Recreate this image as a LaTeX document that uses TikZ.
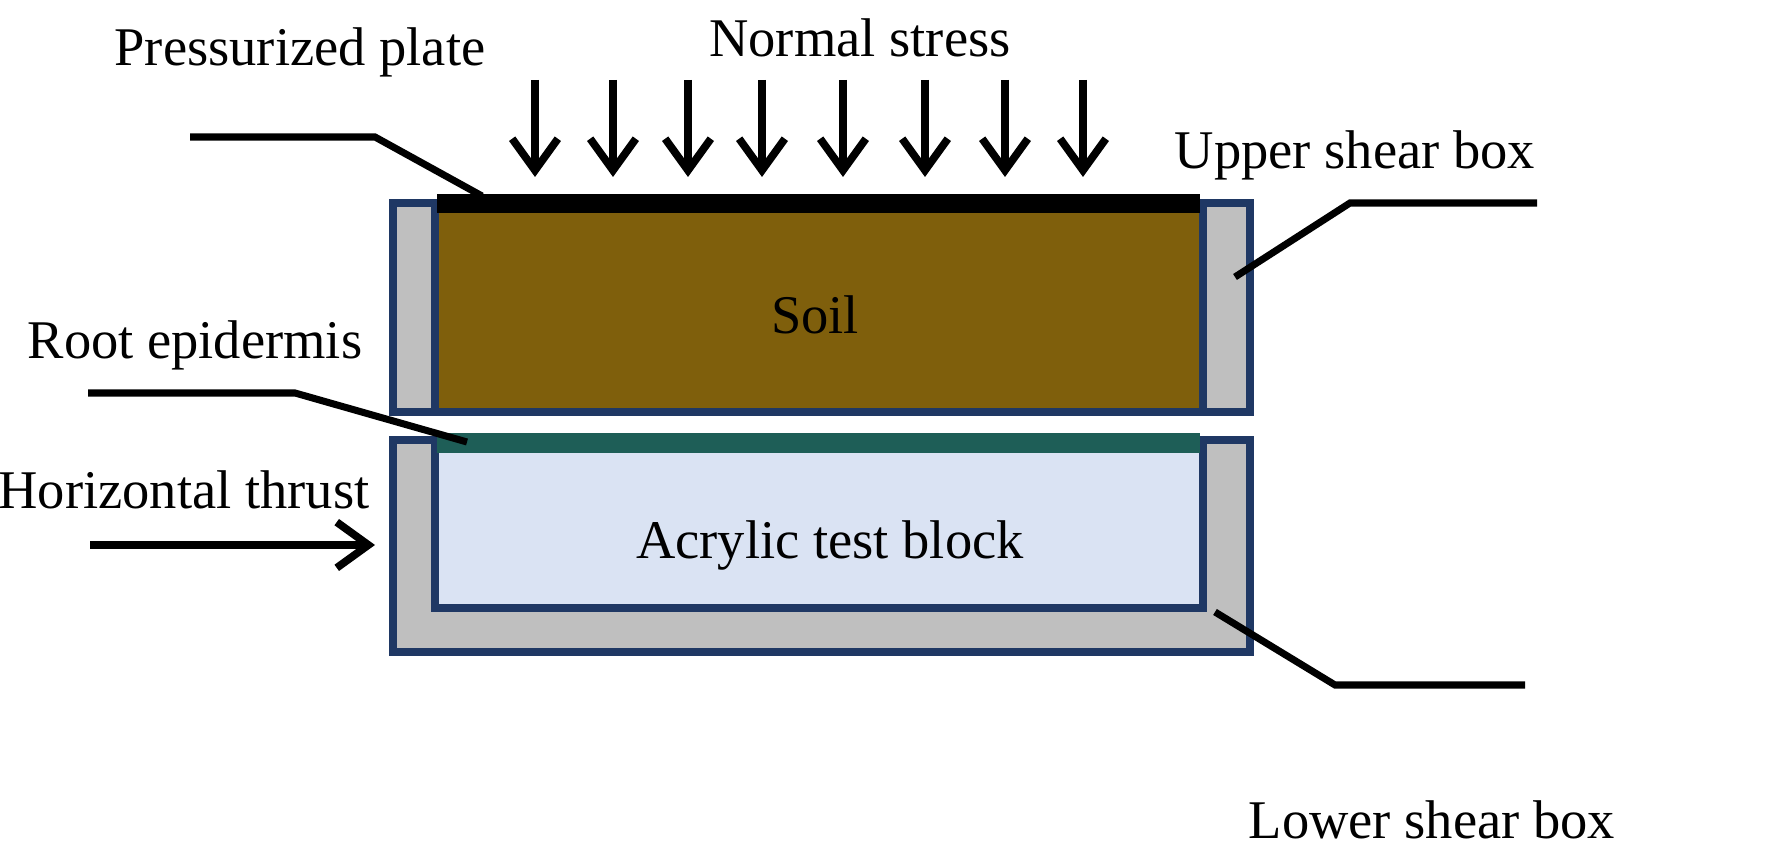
\documentclass[tikz,border=0pt]{standalone}
\usepackage{fontspec}
\setmainfont{Liberation Serif}
\usetikzlibrary{arrows.meta}
\definecolor{navy}{HTML}{1F3864}
\definecolor{boxgray}{HTML}{BFBFBF}
\definecolor{soil}{HTML}{7F5F0C}
\definecolor{acryl}{HTML}{DAE3F3}
\definecolor{root}{HTML}{1E5E57}
\begin{document}
\begin{tikzpicture}[x=0.01cm,y=-0.01cm,
  box/.style={draw=navy,line width=2.2pt},
  lead/.style={line width=2pt},
  load/.style={line width=2.2pt,-{Straight Barb[length=9pt,width=13pt,line width=2.2pt]}},
  lbl/.style={font=\fontsize{15.5}{18}\selectfont,inner sep=0pt}]
\useasboundingbox (0,0) rectangle (1781,868);
% upper box
\path[box,fill=boxgray] (393,203) rectangle (1250,412);
\path[box,fill=soil] (435,203) rectangle (1203,412);
\fill[black] (437,194) rectangle (1200,213);
% lower box
\path[box,fill=boxgray] (393,440) rectangle (1250,652);
\path[box,fill=acryl] (435,440) rectangle (1203,608);
\fill[root] (437,433) rectangle (1200,453);
% labels
\node[lbl] (ns) at (860,38) {Normal stress};
\node[lbl] (pp) at (300,52) {Pressurized plate};
\node[lbl] (us) at (1355,155) {Upper shear box};
\node[lbl] (so) at (815,315) {Soil};
\node[lbl] (re) at (195,345) {Root epidermis};
\node[lbl] (ht) at (184,490) {Horizontal thrust};
\node[lbl] (ac) at (830,545) {Acrylic test block};
\node[lbl] (ls) at (1432,820) {Lower shear box};
% normal stress arrows
\foreach \x in {535,613,688,762,843,925,1005,1083}
  \draw[load] (\x,80) -- (\x,177);
% thrust
\coordinate (t0) at (90,545); \coordinate (t1) at (375,545);
\draw[load] (t0) -- (t1);
% leaders
\coordinate (a1) at (190,137); \coordinate (a2) at (375,137); \coordinate (a3) at (482,196);
\draw[lead] (a1) -- (a2) -- (a3);
\coordinate (b1) at (1537,203); \coordinate (b2) at (1350,203); \coordinate (b3) at (1235,277);
\draw[lead] (b1) -- (b2) -- (b3);
\coordinate (c1) at (88,393); \coordinate (c2) at (295,393); \coordinate (c3) at (467,442);
\draw[lead] (c1) -- (c2) -- (c3);
\coordinate (d1) at (1215,612); \coordinate (d2) at (1335,685); \coordinate (d3) at (1525,685);
\draw[lead] (d1) -- (d2) -- (d3);
\end{tikzpicture}
\end{document}
